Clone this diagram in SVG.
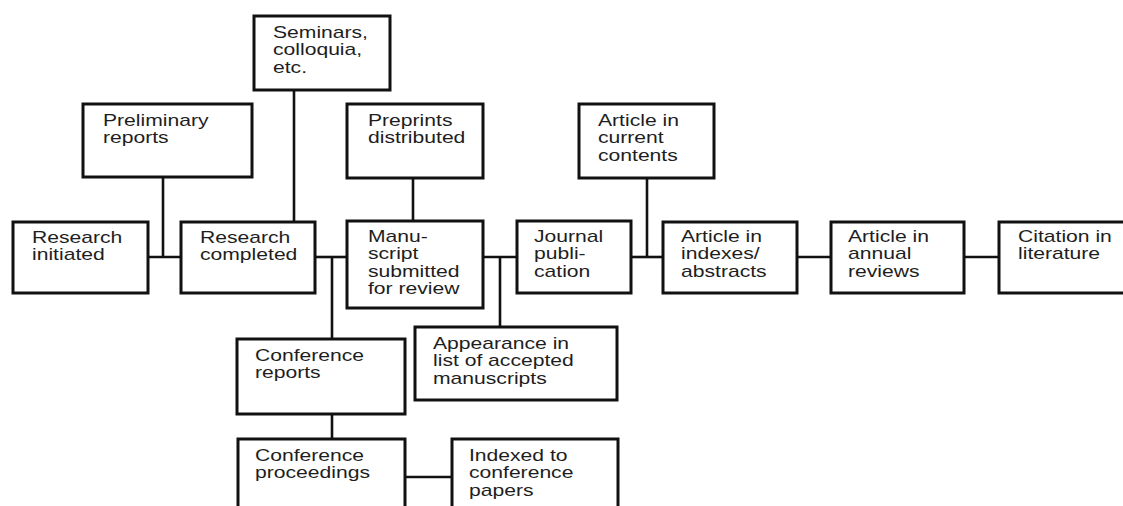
<svg xmlns="http://www.w3.org/2000/svg" width="1123" height="506" viewBox="0 0 1123 506">
  <style>
    .box { fill: #ffffff; stroke: #111111; stroke-width: 3; }
    .lbl { font-family: "Liberation Sans", Arial, sans-serif; font-size: 16px; fill: #1e1e1e; }
    .wire { fill: none; stroke: #111111; stroke-width: 2.6; }
  </style>
  <rect width="1123" height="506" fill="#ffffff"/>

  <!-- connectors -->
  <g id="connectors" class="wire">
    <path d="M148 257 H181"/>
    <path d="M163 177 V257"/>
    <path d="M294 90 V221"/>
    <path d="M315 257 H347"/>
    <path d="M332 257 V339"/>
    <path d="M413 178 V221"/>
    <path d="M483 257 H517"/>
    <path d="M500 257 V327"/>
    <path d="M631 257 H663"/>
    <path d="M647 178 V257"/>
    <path d="M797 257 H831"/>
    <path d="M964 257 H999"/>
    <path d="M332 414 V439"/>
    <path d="M405 477 H452"/>
  </g>

  <!-- nodes: each label is widened horizontally by 1.32 -->
  <g id="seminars">
    <rect class="box" x="254" y="16" width="136" height="74"/>
    <text class="lbl" transform="translate(273,38) scale(1.32,1)"><tspan x="0" y="0">Seminars,</tspan><tspan x="0" y="17.5">colloquia,</tspan><tspan x="0" y="35">etc.</tspan></text>
  </g>
  <g id="preliminary">
    <rect class="box" x="83" y="104" width="169" height="73"/>
    <text class="lbl" transform="translate(103,126) scale(1.32,1)"><tspan x="0" y="0">Preliminary</tspan><tspan x="0" y="17.5">reports</tspan></text>
  </g>
  <g id="preprints">
    <rect class="box" x="347" y="104" width="136" height="74"/>
    <text class="lbl" transform="translate(368,126) scale(1.32,1)"><tspan x="0" y="0">Preprints</tspan><tspan x="0" y="17.5">distributed</tspan></text>
  </g>
  <g id="current-contents">
    <rect class="box" x="579" y="104" width="135" height="74"/>
    <text class="lbl" transform="translate(598,126) scale(1.32,1)"><tspan x="0" y="0">Article in</tspan><tspan x="0" y="17.5">current</tspan><tspan x="0" y="35">contents</tspan></text>
  </g>
  <g id="research-initiated">
    <rect class="box" x="13" y="222" width="135" height="71"/>
    <text class="lbl" transform="translate(32,243) scale(1.32,1)"><tspan x="0" y="0">Research</tspan><tspan x="0" y="17.5">initiated</tspan></text>
  </g>
  <g id="research-completed">
    <rect class="box" x="181" y="222" width="134" height="71"/>
    <text class="lbl" transform="translate(200,243) scale(1.32,1)"><tspan x="0" y="0">Research</tspan><tspan x="0" y="17.5">completed</tspan></text>
  </g>
  <g id="manuscript">
    <rect class="box" x="347" y="221" width="136" height="87"/>
    <text class="lbl" transform="translate(368,242) scale(1.32,1)"><tspan x="0" y="0">Manu-</tspan><tspan x="0" y="17.5">script</tspan><tspan x="0" y="35">submitted</tspan><tspan x="0" y="52.5">for review</tspan></text>
  </g>
  <g id="journal">
    <rect class="box" x="517" y="221" width="114" height="72"/>
    <text class="lbl" transform="translate(534,242) scale(1.32,1)"><tspan x="0" y="0">Journal</tspan><tspan x="0" y="17.5">publi-</tspan><tspan x="0" y="35">cation</tspan></text>
  </g>
  <g id="indexes">
    <rect class="box" x="663" y="222" width="134" height="71"/>
    <text class="lbl" transform="translate(681,242) scale(1.32,1)"><tspan x="0" y="0">Article in</tspan><tspan x="0" y="17.5">indexes/</tspan><tspan x="0" y="35">abstracts</tspan></text>
  </g>
  <g id="annual-reviews">
    <rect class="box" x="831" y="222" width="133" height="71"/>
    <text class="lbl" transform="translate(848,242) scale(1.32,1)"><tspan x="0" y="0">Article in</tspan><tspan x="0" y="17.5">annual</tspan><tspan x="0" y="35">reviews</tspan></text>
  </g>
  <g id="citation">
    <rect class="box" x="999" y="222" width="140" height="71"/>
    <text class="lbl" transform="translate(1018,242) scale(1.32,1)"><tspan x="0" y="0">Citation in</tspan><tspan x="0" y="17.5">literature</tspan></text>
  </g>
  <g id="appearance">
    <rect class="box" x="415" y="327" width="202" height="73"/>
    <text class="lbl" transform="translate(433,349) scale(1.32,1)"><tspan x="0" y="0">Appearance in</tspan><tspan x="0" y="17.5">list of accepted</tspan><tspan x="0" y="35">manuscripts</tspan></text>
  </g>
  <g id="conference-reports">
    <rect class="box" x="237" y="339" width="168" height="75"/>
    <text class="lbl" transform="translate(255,361) scale(1.32,1)"><tspan x="0" y="0">Conference</tspan><tspan x="0" y="17.5">reports</tspan></text>
  </g>
  <g id="conference-proceedings">
    <rect class="box" x="238" y="439" width="167" height="90"/>
    <text class="lbl" transform="translate(255,461) scale(1.32,1)"><tspan x="0" y="0">Conference</tspan><tspan x="0" y="17.5">proceedings</tspan></text>
  </g>
  <g id="indexed-conference">
    <rect class="box" x="452" y="439" width="166" height="90"/>
    <text class="lbl" transform="translate(469,461) scale(1.32,1)"><tspan x="0" y="0">Indexed to</tspan><tspan x="0" y="17.5">conference</tspan><tspan x="0" y="35">papers</tspan></text>
  </g>
</svg>
